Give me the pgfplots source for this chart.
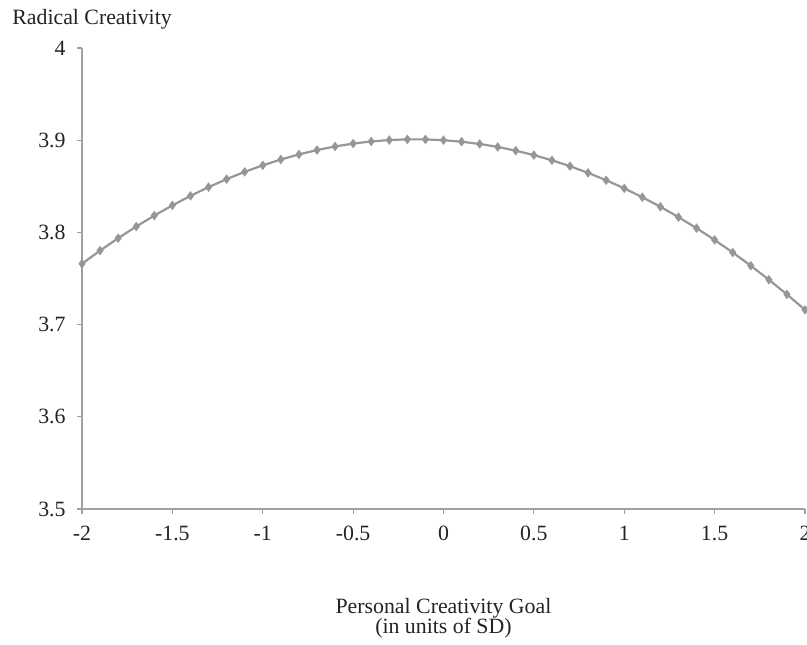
\documentclass[border=0pt]{standalone}
\usepackage{pgfplots}
\pgfplotsset{compat=1.18}
\usepackage{fontspec}
\setmainfont{Liberation Serif}
\definecolor{axgray}{RGB}{160,160,160}
\definecolor{linegray}{RGB}{150,150,152}
\definecolor{txt}{RGB}{35,35,35}
\begin{document}
\begin{tikzpicture}
\begin{axis}[
  at={(45.1pt,74.8pt)}, anchor=south west,
  scale only axis, width=397.65pt, height=253.55pt,
  xmin=-2, xmax=2, ymin=3.5, ymax=4,
  axis x line*=bottom, axis y line*=left,
  axis line style={axgray, line width=0.6pt},
  xtick={-2,-1.5,...,2}, ytick={3.5,3.6,...,4},
  tick align=outside, major tick length=2.75pt,
  tick style={axgray, line width=0.6pt},
  xticklabels={-2,-1.5,-1,-0.5,0,0.5,1,1.5,2},
  yticklabels={3.5,3.6,3.7,3.8,3.9,4},
  tick label style={font=\fontsize{12}{14}\selectfont, text=txt},
  xticklabel style={yshift=-3.3pt},
  yticklabel style={xshift=-2.75pt},
  /pgf/number format/assume math mode=true,
  clip=false,
]
\addplot[color=linegray, line width=1.2pt, mark=diamond*, mark size=2.3pt, mark options={fill=linegray, draw=linegray, line width=0.4pt}] coordinates {
(-2.0,3.76600) (-1.9,3.78025) (-1.8,3.79371) (-1.7,3.80637) (-1.6,3.81824)
(-1.5,3.82931) (-1.4,3.83959) (-1.3,3.84907) (-1.2,3.85776) (-1.1,3.86565)
(-1.0,3.87275) (-0.9,3.87905) (-0.8,3.88456) (-0.7,3.88927) (-0.6,3.89319)
(-0.5,3.89631) (-0.4,3.89864) (-0.3,3.90017) (-0.2,3.90091) (-0.1,3.90085)
(0.0,3.90000) (0.1,3.89835) (0.2,3.89591) (0.3,3.89267) (0.4,3.88864)
(0.5,3.88381) (0.6,3.87819) (0.7,3.87177) (0.8,3.86456) (0.9,3.85655)
(1.0,3.84775) (1.1,3.83815) (1.2,3.82776) (1.3,3.81657) (1.4,3.80459)
(1.5,3.79181) (1.6,3.77824) (1.7,3.76387) (1.8,3.74871) (1.9,3.73275)
(2.0,3.71600)
};
\end{axis}
\node[anchor=base west, inner sep=0pt, text=txt, font=\fontsize{12}{14}\selectfont] at (6.6pt,341.5pt) {Radical Creativity};
\node[anchor=base, inner sep=0pt, text=txt, font=\fontsize{12}{14}\selectfont] at (243.9pt,17.05pt) {Personal Creativity Goal};
\node[anchor=base, inner sep=0pt, text=txt, font=\fontsize{12}{14}\selectfont] at (243.9pt,6.3pt) {(in units of SD)};
\pgfresetboundingbox
\path (0,0) rectangle (443.85pt,354.75pt);
\end{tikzpicture}
\end{document}
